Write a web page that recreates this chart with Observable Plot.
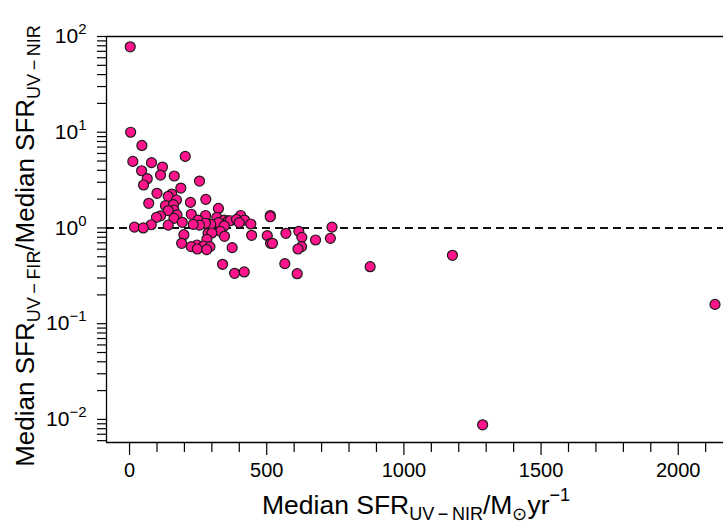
<!DOCTYPE html>
<html><head><meta charset="utf-8">
<script src="https://cdn.jsdelivr.net/npm/d3@7"></script>
<script src="https://cdn.jsdelivr.net/npm/@observablehq/plot@0.6"></script>
<style>html,body{margin:0;padding:0;background:#fff} svg{display:block}</style>
</head><body><div id="chart"></div>
<script>
// Median SFR_UV-NIR (Msun/yr)
const sfrUVNIR = [
  2.5, 4, 45, 12, 80, 120, 203, 44, 64.5, 113, 163, 255,
  51, 187, 100, 154, 141, 171, 278, 70, 222, 131, 160, 162, 141, 324,
  113, 98, 173, 162, 225, 277, 318, 405, 513, 513, 345, 360, 367, 390, 419, 250,
  192, 400, 442, 324, 296, 277, 255, 232, 141, 79, 345, 18, 50, 738,
  331, 286, 300, 617, 570, 198, 445, 502, 346, 628, 282, 732, 678,
  190, 514, 521, 246, 225, 270, 293, 247, 281, 374, 627, 614,
  339, 383, 418, 566, 611,
  877, 1177, 1287, 2134
];
// Median SFR_UV-FIR / Median SFR_UV-NIR
const sfrRatio = [
  78, 10.0, 7.28, 4.96, 4.81, 4.33, 5.59, 3.96, 3.27, 3.57, 3.49, 3.09,
  2.81, 2.61, 2.30, 2.26, 2.14, 1.96, 1.99, 1.81, 1.85, 1.71, 1.75, 1.54, 1.52, 1.60,
  1.34, 1.29, 1.37, 1.26, 1.39, 1.35, 1.29, 1.35, 1.35, 1.31, 1.21, 1.19, 1.19, 1.23, 1.21, 1.21,
  1.145, 1.136, 1.10, 1.136, 1.09, 1.12, 1.07, 1.09, 1.07, 1.08, 1.05, 1.02, 1.00, 1.02,
  0.922, 0.879, 0.886, 0.922, 0.879, 0.851, 0.838, 0.831, 0.818, 0.798, 0.761, 0.779, 0.749,
  0.691, 0.691, 0.691, 0.664, 0.638, 0.648, 0.638, 0.603, 0.594, 0.623, 0.638, 0.603,
  0.417, 0.336, 0.347, 0.424, 0.333,
  0.394, 0.518, 0.00879, 0.159
];
const xDomain = [-84, 2165];
const yDomain = [0.00574, 100];
const xMajorTicks = [0, 500, 1000, 1500, 2000];
const xMinorTicks = [100, 200, 300, 400, 600, 700, 800, 900, 1100, 1200, 1300, 1400, 1600, 1700, 1800, 1900, 2100];
const yMajorTicks = [0.01, 0.1, 1, 10, 100];
const yMajorExp = ["\u22122", "\u22121", "0", "1", "2"];
const yMinorTicks = [0.006, 0.007, 0.008, 0.009,
  0.02, 0.03, 0.04, 0.05, 0.06, 0.07, 0.08, 0.09,
  0.2, 0.3, 0.4, 0.5, 0.6, 0.7, 0.8, 0.9,
  2, 3, 4, 5, 6, 7, 8, 9,
  20, 30, 40, 50, 60, 70, 80, 90];
const refLine = [1];

const data = sfrUVNIR.map((x, i) => ({x, y: sfrRatio[i]}));
const FONT = "Liberation Sans, Arial, Helvetica, sans-serif";

const chart = Plot.plot({
  width: 723, height: 531,
  marginLeft: 106, marginRight: 0, marginTop: 36, marginBottom: 89,
  style: {fontFamily: FONT, fontSize: "20px", color: "#000", background: "#fff", overflow: "visible"},
  x: {domain: xDomain},
  y: {type: "log", domain: yDomain},
  marks: [
    Plot.ruleY([yDomain[1]], {stroke: "#000", strokeWidth: 1.3}),
    Plot.ruleY(refLine, {stroke: "#111", strokeWidth: 2, strokeDasharray: "8,5"}),
    Plot.axisX({ticks: xMinorTicks, tickSize: 10, tickFormat: () => "", label: null, strokeWidth: 1.2}),
    Plot.axisX({ticks: xMajorTicks, tickSize: 13, tickPadding: 7, tickFormat: d => String(d), label: null, fontSize: 20, strokeWidth: 1.2}),
    Plot.axisY({ticks: yMinorTicks, tickSize: 9, tickFormat: () => "", label: null, strokeWidth: 1.2}),
    Plot.axisY({ticks: yMajorTicks, tickSize: 9, tickPadding: 11, tickFormat: d => "10|" + yMajorExp[yMajorTicks.indexOf(d)], label: null, fontSize: 21, strokeWidth: 1.2}),
    Plot.ruleX([xDomain[0]], {stroke: "#000", strokeWidth: 1.3}),
    Plot.ruleY([yDomain[0]], {stroke: "#000", strokeWidth: 1.3}),
    Plot.dot(data, {x: "x", y: "y", r: 5, fill: "#ff148c", stroke: "#1a1a1a", strokeWidth: 1.2})
  ]
});
document.getElementById("chart").appendChild(chart);

const svg = d3.select(chart);
// superscripted y tick labels
svg.selectAll("text").each(function() {
  const t = d3.select(this);
  const s = t.text();
  if (/^10\|/.test(s)) {
    const exp = s.split("|")[1];
    t.text("");
    t.append("tspan").text("10");
    t.append("tspan").attr("dy", "-9").attr("font-size", "15px").text(exp);
  }
});

// x axis title
const xt = svg.append("text").attr("x", 416).attr("y", 514).attr("text-anchor", "middle")
  .attr("font-family", FONT).attr("font-size", "26.5px").attr("fill", "#000");
xt.append("tspan").text("Median SFR");
xt.append("tspan").attr("font-size", "18px").attr("dy", 6).text("UV\u2009\u2212\u2009NIR");
xt.append("tspan").attr("dy", -6).text("/M");
xt.append("tspan").attr("font-size", "18px").attr("dy", 6).text("\u2299");
xt.append("tspan").attr("dy", -6).text("yr");
xt.append("tspan").attr("font-size", "18px").attr("dy", -13).text("\u22121");

// y axis title
const yt = svg.append("text").attr("transform", "translate(34,246) rotate(-90)").attr("text-anchor", "middle")
  .attr("font-family", FONT).attr("font-size", "26px").attr("fill", "#000");
yt.append("tspan").text("Median SFR");
yt.append("tspan").attr("font-size", "18px").attr("dy", 6).text("UV\u2009\u2212\u2009FIR");
yt.append("tspan").attr("dy", -6).text("/Median SFR");
yt.append("tspan").attr("font-size", "18px").attr("dy", 6).text("UV\u2009\u2212\u2009NIR");
</script>
</body></html>
